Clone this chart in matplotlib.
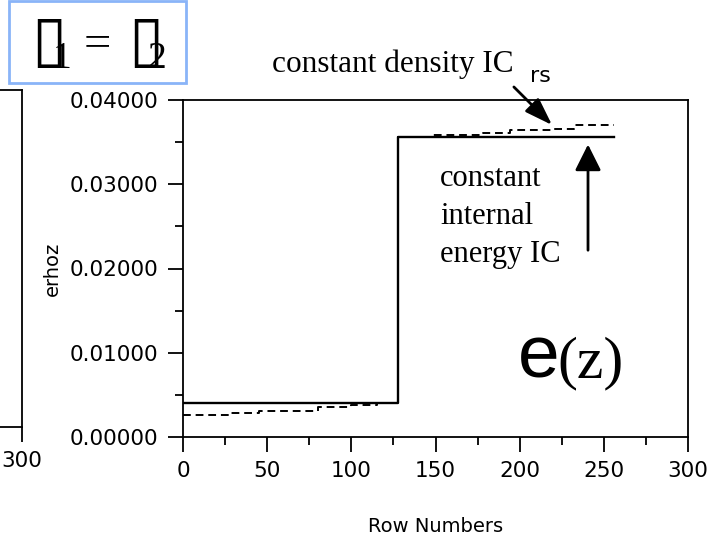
import numpy as np
import matplotlib.pyplot as plt
from matplotlib.patches import Rectangle
from matplotlib.ticker import MultipleLocator

# constant internal energy IC (solid)
rows_e = [0, 128, 256]
erhoz_e = [0.0040, 0.03565, 0.03565]

# constant density IC (dashed, steps)
rows_d = [0, 28, 45, 80, 100, 115, 128, 148, 178, 194, 220, 232, 256]
erhoz_d = [0.0026, 0.0029, 0.0031, 0.0036, 0.0038, 0.0040, 0.03565,
           0.0359, 0.0361, 0.03644, 0.0366, 0.0370, 0.0370]

x_ticks = [0, 50, 100, 150, 200, 250, 300]
y_ticks = [0.0, 0.01, 0.02, 0.03, 0.04]

W, H = 719, 548
fig = plt.figure(figsize=(W / 100, H / 100), dpi=100)


def fx(x):
    return x / W


def fy(y):
    return 1 - y / H


# ---- panel on the left (cut off) ----
axl = fig.add_axes([-0.6, fy(427), 0.6 + fx(22), fy(90) - fy(427)])
axl.set_xlim(0, 300)
axl.set_ylim(0, 1)
axl.set_xticks([300])
axl.set_xticklabels(['300'])
axl.set_yticks([])
axl.tick_params(axis='x', direction='out', length=11, width=1.3, labelsize=15.5, pad=6)
for s in axl.spines.values():
    s.set_linewidth(1.3)

# ---- main panel ----
ax = fig.add_axes([fx(183), fy(437), fx(688) - fx(183), fy(100) - fy(437)])
ax.plot(rows_e, erhoz_e, color='black', lw=1.7, drawstyle='steps-post')
ax.plot(rows_d, erhoz_d, color='black', lw=1.4, ls=(0, (4, 2.5)), drawstyle='steps-post')

ax.set_xlim(0, 300)
ax.set_ylim(0, 0.04)
ax.set_xticks(x_ticks)
ax.set_yticks(y_ticks)
ax.set_yticklabels([f'{v:.5f}' for v in y_ticks])
ax.xaxis.set_minor_locator(MultipleLocator(25))
ax.yaxis.set_minor_locator(MultipleLocator(0.005))
ax.tick_params(which='major', direction='out', length=11, width=1.3, labelsize=15.5)
ax.tick_params(which='minor', direction='out', length=5.5, width=1.3)
ax.tick_params(axis='x', pad=6)
ax.tick_params(axis='y', pad=7)
for s in ax.spines.values():
    s.set_linewidth(1.3)

ax.set_xlabel('Row Numbers', fontsize=14, labelpad=26)
ax.set_ylabel('erhoz', fontsize=14)
ax.yaxis.set_label_coords(-0.24, 0.5)

serif = 'Liberation Serif'

# annotations
ax.text(53, 0.04332, 'constant density IC', family=serif, fontsize=22.5,
        ha='left', va='baseline', clip_on=False)
ax.text(206, 0.04214, 'rs', fontsize=16, ha='left', va='baseline', clip_on=False)
ax.annotate('', xy=(220.4, 0.0368), xytext=(195.4, 0.04178),
            arrowprops=dict(arrowstyle='-|>,head_length=1.7,head_width=0.58',
                            color='black', lw=2), annotation_clip=False)
ax.text(152.7, 0.0324, 'constant\ninternal\nenergy IC', family=serif, fontsize=22,
        ha='left', va='top', linespacing=1.4)
ax.annotate('', xy=(240.6, 0.03505), xytext=(240.6, 0.02184),
            arrowprops=dict(arrowstyle='-|>,head_length=1.6,head_width=0.8',
                            color='black', lw=2))
ax.text(199, 0.0071, 'e', family='Liberation Sans', fontsize=54, ha='left', va='baseline')
ax.text(222.5, 0.0071, '(z)', family=serif, fontsize=43, ha='left', va='baseline')

# boxed label at top left
fig.patches.append(Rectangle((fx(9), fy(83)), fx(186) - fx(9), fy(1) - fy(83),
                             transform=fig.transFigure, fill=False,
                             edgecolor='#8AB4F8', lw=2))
fig.text(fx(31), fy(60), '\u25af', fontsize=46, fontweight='bold', va='baseline', ha='left')
fig.text(fx(53), fy(68), '1', family=serif, fontsize=27, va='baseline', ha='left')
fig.text(fx(84), fy(57), '=', family=serif, fontsize=35, va='baseline', ha='left')
fig.text(fx(128), fy(60), '\u25af', fontsize=46, fontweight='bold', va='baseline', ha='left')
fig.text(fx(147), fy(68), '2', family=serif, fontsize=27, va='baseline', ha='left')

fig.savefig('out.png', dpi=100)
